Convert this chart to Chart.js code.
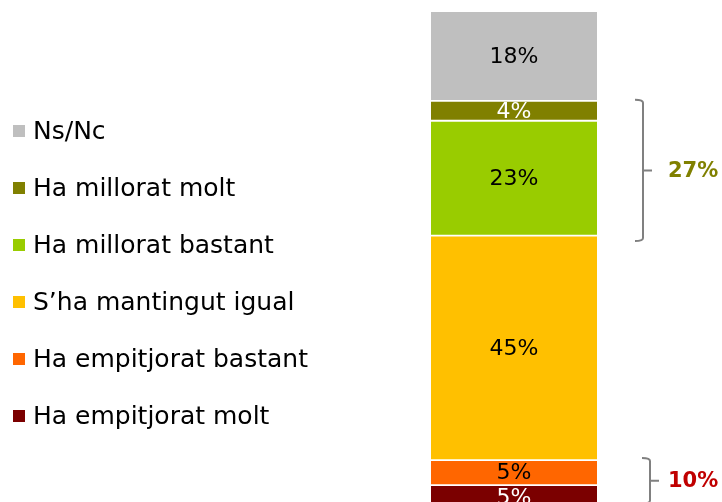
<!DOCTYPE html>
<html>
<head>
<meta charset="utf-8">
<script src="https://cdn.jsdelivr.net/npm/chart.js@4"></script>
<style>
  html, body { margin: 0; padding: 0; overflow: hidden; background: #fff; }
  #wrap { width: 722px; height: 502px; overflow: hidden; }
</style>
</head>
<body>
<div id="wrap"><canvas id="myChart" width="722" height="515"></canvas></div>
<script>
// stacked from the bottom up
const categories = ['Ha empitjorat molt', 'Ha empitjorat bastant', 'S\u2019ha mantingut igual', 'Ha millorat bastant', 'Ha millorat molt', 'Ns/Nc'];
const values = [5, 5, 45, 23, 4, 18];
const colors = ['#7b0000', '#ff6600', '#ffc000', '#99cc00', '#808000', '#bfbfbf'];
const labelColors = ['#ffffff', '#000000', '#000000', '#000000', '#ffffff', '#000000'];

// brackets on the right (value range on the stack)
const bracketFrom = [53.9, 1.3];
const bracketTo = [82.2, 10.4];
const bracketLabels = ['27%', '10%'];
const bracketColors = ['#808000', '#c00000'];

const FONT = '"DejaVu Sans", sans-serif';

const segmentLabels = {
    id: 'segmentLabels',
    afterDatasetsDraw(chart) {
        const ctx = chart.ctx;
        ctx.save();
        ctx.font = '22px ' + FONT;
        ctx.textAlign = 'center';
        ctx.textBaseline = 'middle';
        chart.data.datasets.forEach((ds, i) => {
            const bar = chart.getDatasetMeta(i).data[0];
            ctx.fillStyle = labelColors[i];
            ctx.fillText(ds.data[0] + '%', bar.x, (bar.y + bar.base) / 2 + 1);
        });
        ctx.restore();
    }
};

const sideLegend = {
    id: 'sideLegend',
    afterDraw(chart) {
        const ctx = chart.ctx;
        ctx.save();
        ctx.font = '25px ' + FONT;
        ctx.textBaseline = 'middle';
        const n = categories.length;
        for (let k = 0; k < n; k++) {
            const i = n - 1 - k; // top of legend = top of stack
            const y = 131 + k * 57;
            ctx.fillStyle = colors[i];
            ctx.fillRect(13, y - 6, 12, 12);
            ctx.fillStyle = '#000';
            ctx.fillText(categories[i], 33, y + 1);
        }
        ctx.restore();
    }
};

const brackets = {
    id: 'brackets',
    afterDraw(chart) {
        const ctx = chart.ctx;
        const yScale = chart.scales.y;
        const right = chart.chartArea.right;
        const offsets = [46, 53];
        ctx.save();
        bracketFrom.forEach((from, i) => {
            const top = yScale.getPixelForValue(bracketTo[i]);
            const bottom = yScale.getPixelForValue(from);
            const mid = (top + bottom) / 2;
            const x = right + offsets[i];
            ctx.strokeStyle = '#808080';
            ctx.lineWidth = 2;
            ctx.beginPath();
            ctx.moveTo(x - 8, top);
            ctx.quadraticCurveTo(x, top, x, top + 3);
            ctx.lineTo(x, bottom - 3);
            ctx.quadraticCurveTo(x, bottom, x - 8, bottom);
            ctx.moveTo(x, mid);
            ctx.lineTo(x + 9, mid);
            ctx.stroke();
            ctx.fillStyle = bracketColors[i];
            ctx.font = 'bold 21px ' + FONT;
            ctx.textBaseline = 'middle';
            ctx.textAlign = 'left';
            ctx.fillText(bracketLabels[i], 668, mid + 1);
        });
        ctx.restore();
    }
};

new Chart(document.getElementById('myChart'), {
    type: 'bar',
    data: {
        labels: [''],
        datasets: categories.map((c, i) => ({
            label: c,
            data: [values[i]],
            backgroundColor: colors[i],
            borderColor: '#ffffff',
            borderWidth: { top: 1.25, bottom: 1.25, left: 0, right: 0 },
            borderSkipped: false,
            barPercentage: 1,
            categoryPercentage: 1
        }))
    },
    options: {
        responsive: false,
        animation: false,
        layout: { padding: { left: 431, right: 125, top: 11, bottom: 5 } },
        scales: {
            x: { stacked: true, display: false },
            y: { stacked: true, display: false, min: 0, max: 100 }
        },
        plugins: {
            legend: { display: false },
            tooltip: { enabled: false }
        }
    },
    plugins: [segmentLabels, sideLegend, brackets]
});
</script>
</body>
</html>
